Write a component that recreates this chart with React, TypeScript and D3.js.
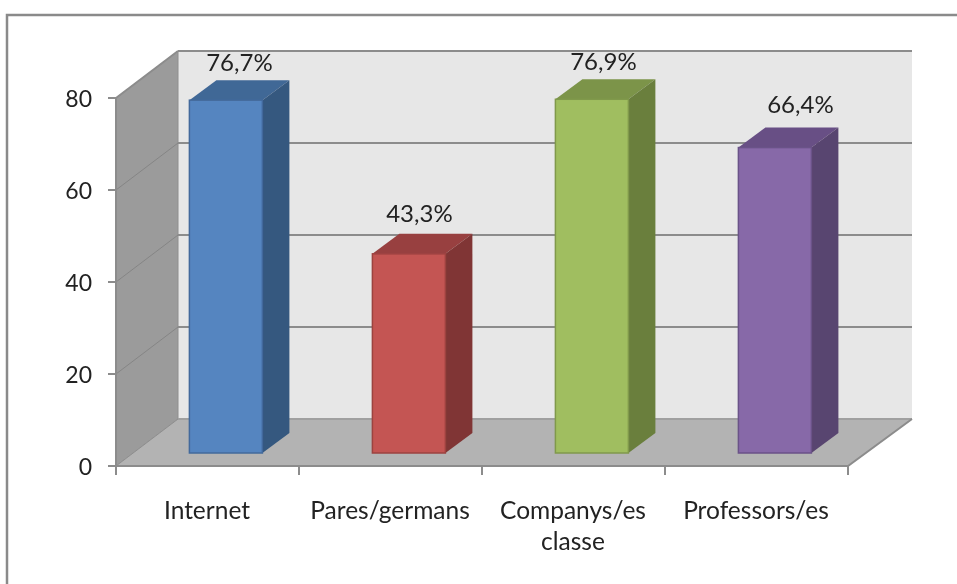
import React from "react";
import * as d3 from "d3";

const categories = ["Internet", "Pares/germans", "Companys/es", "Professors/es"];
const categorySecondLines = ["", "", "classe", ""];
const values = [76.7, 43.3, 76.9, 66.4];
const valueLabels = ["76,7%", "43,3%", "76,9%", "66,4%"];
const faceColors = ["#5585c0", "#c45552", "#a0be60", "#8769a8"];
const topColors = ["#416796", "#984140", "#7c944a", "#684f85"];
const sideColors = ["#34587f", "#803634", "#6a7f3e", "#59446f"];
const edgeColors = ["#42699c", "#9d4240", "#80994c", "#6a5288"];
const yTicks = [0, 20, 40, 60, 80];
const labelNudgeX = [0, -3, -2, 12];
const labelNudgeY = [2, -1, 2, -4];

const W = 957, H = 584;
const dx = 62, dy = -47;
const barDx = 27, barDy = -20, barLift = 13;
const y = d3.scaleLinear().domain([0, 80]).range([466, 98]);
const x = d3.scaleBand<number>().domain(d3.range(4)).range([116, 848]);
const barW = 73, barOff = 73.4;
const font = "Lato, Carlito, sans-serif";
const poly = (p: number[][]) => p.map((q) => q.join(",")).join(" ");

export default function App() {
  const [x0, x1] = x.range();
  return (
    <svg width={W} height={H} style={{ position: "absolute", left: 0, top: 0, background: "#fff" }}>
      <defs>
        <filter id="soft" x="-5%" y="-5%" width="110%" height="110%">
          <feGaussianBlur stdDeviation="0.45" />
        </filter>
      </defs>
      <g filter="url(#soft)">
        <path d="M7,584V15H957" fill="none" stroke="#8a8a8a" strokeWidth={2.5} />
        <polygon points={poly([[x0 + dx, y(80) + dy], [x1 + dx + 2, y(80) + dy], [x1 + dx + 2, y(0) + dy], [x0 + dx, y(0) + dy]])} fill="#e7e7e7" />
        <polygon points={poly([[x0, y(80)], [x0 + dx, y(80) + dy], [x0 + dx, y(0) + dy], [x0, y(0)]])} fill="#9b9b9b" stroke="#8e8e8e" strokeWidth={1} />
        <polygon points={poly([[x0, y(0)], [x1, y(0)], [x1 + dx + 2, y(0) + dy], [x0 + dx, y(0) + dy]])} fill="#b3b3b3" />
        <path d={`M${x0 + dx},${y(0) + dy}H${x1 + dx + 2}`} stroke="#a0a0a0" strokeWidth={2} />
        {yTicks.filter((t) => t > 0).map((t) => (
          <g key={t} fill="none" stroke="#8c8c8c" strokeWidth={2}>
            <path d={`M${x0 + dx},${y(t) + dy}H${x1 + dx + 2}`} />
            <path d={`M${x0},${y(t)}L${x0 + dx},${y(t) + dy}`} stroke={t === 80 ? "#8c8c8c" : "#858585"} strokeWidth={t === 80 ? 2 : 1} />
          </g>
        ))}
        <path d={`M${x0},${y(0)}L${x0 + dx},${y(0) + dy}`} stroke="#8e8e8e" strokeWidth={1} />
        <path d={`M${x0},${y(80)}V${y(0)}`} stroke="#8c8c8c" strokeWidth={2} />
        <path d={`M${x0},${y(0)}H${x1}L${x1 + dx + 2},${y(0) + dy}`} fill="none" stroke="#8c8c8c" strokeWidth={2} />
        {yTicks.map((t) => (
          <g key={t}>
            <path d={`M${x0 - 8},${y(t)}H${x0}`} stroke="#8c8c8c" strokeWidth={2} />
            <text x={92} y={y(t) + 9} textAnchor="end" fontFamily={font} fontSize={23} fill="#222">{t}</text>
          </g>
        ))}
        {d3.range(5).map((i) => {
          const tx = x0 + (i * (x1 - x0)) / 4;
          return <path key={i} d={`M${tx},${y(0)}v9`} stroke="#8c8c8c" strokeWidth={2} />;
        })}
        {values.map((v, i) => {
          const l = x(i)! + barOff;
          const r = l + barW;
          const b = y(0) - barLift;
          const t = y(v) - barLift;
          return (
            <g key={i}>
              <polygon points={poly([[l, t], [r, t], [r + barDx, t + barDy], [l + barDx, t + barDy]])} fill={topColors[i]} />
              <polygon points={poly([[r, t], [r + barDx, t + barDy], [r + barDx, b + barDy], [r, b]])} fill={sideColors[i]} />
              <rect x={l} y={t} width={barW} height={b - t} fill={faceColors[i]} stroke={edgeColors[i]} strokeWidth={1.5} />
              <text x={l + 50 + labelNudgeX[i]} y={t + barDy - 11 + labelNudgeY[i]} textAnchor="middle" fontFamily={font} fontSize={24} fill="#222">{valueLabels[i]}</text>
            </g>
          );
        })}
        {categories.map((c, i) => {
          const cx = x(i)! + x.bandwidth() / 2 - 0.5;
          return (
            <text key={c} textAnchor="middle" fontFamily={font} fontSize={24.5} fill="#222">
              <tspan x={cx} y={519}>{c}</tspan>
              {categorySecondLines[i] && <tspan x={cx} y={550}>{categorySecondLines[i]}</tspan>}
            </text>
          );
        })}
      </g>
    </svg>
  );
}
